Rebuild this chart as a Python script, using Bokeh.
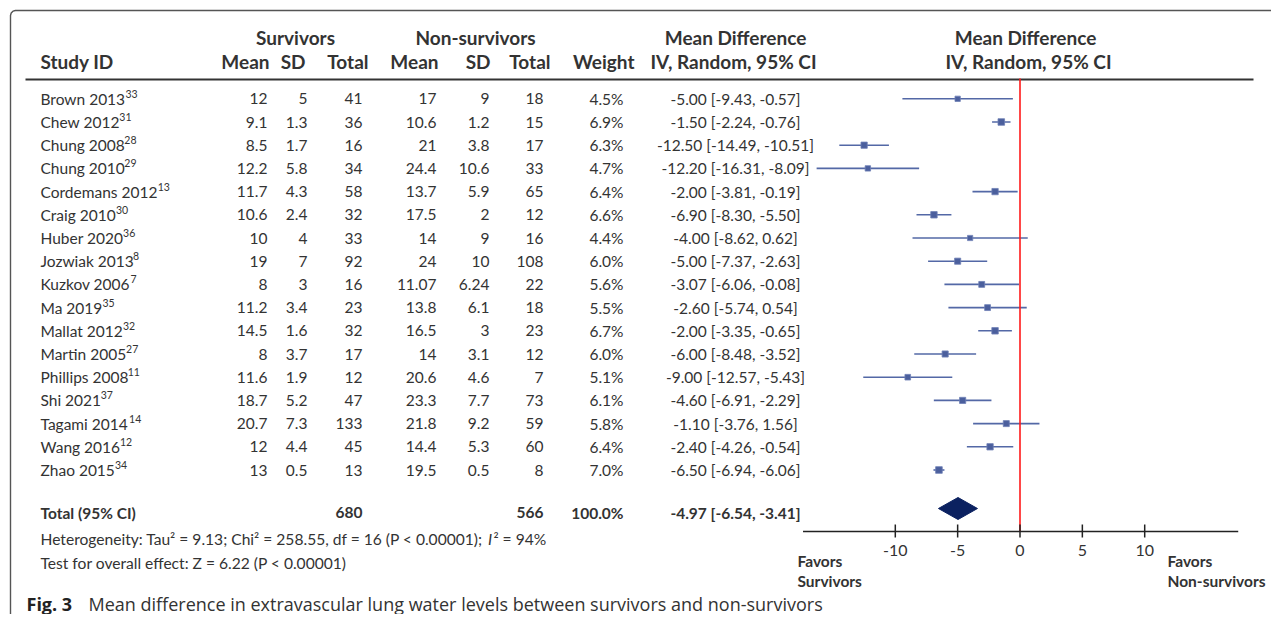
from bokeh.plotting import figure
from bokeh.models import Range1d, ColumnDataSource
from bokeh.core.properties import value
from bokeh.embed import file_html
from bokeh.resources import INLINE

# ---------------- data ----------------
studies = ["Brown 2013", "Chew 2012", "Chung 2008", "Chung 2010", "Cordemans 2012",
           "Craig 2010", "Huber 2020", "Jozwiak 2013", "Kuzkov 2006", "Ma 2019",
           "Mallat 2012", "Martin 2005", "Phillips 2008", "Shi 2021", "Tagami 2014",
           "Wang 2016", "Zhao 2015"]
refs = ["33", "31", "28", "29", "13", "30", "36", "8", "7", "35", "32", "27", "11",
        "37", "14", "12", "34"]
surv_mean = [12, 9.1, 8.5, 12.2, 11.7, 10.6, 10, 19, 8, 11.2, 14.5, 8, 11.6, 18.7, 20.7, 12, 13]
surv_sd = [5, 1.3, 1.7, 5.8, 4.3, 2.4, 4, 7, 3, 3.4, 1.6, 3.7, 1.9, 5.2, 7.3, 4.4, 0.5]
surv_n = [41, 36, 16, 34, 58, 32, 33, 92, 16, 23, 32, 17, 12, 47, 133, 45, 13]
non_mean = [17, 10.6, 21, 24.4, 13.7, 17.5, 14, 24, 11.07, 13.8, 16.5, 14, 20.6, 23.3, 21.8, 14.4, 19.5]
non_sd = [9, 1.2, 3.8, 10.6, 5.9, 2, 9, 10, 6.24, 6.1, 3, 3.1, 4.6, 7.7, 9.2, 5.3, 0.5]
non_n = [18, 15, 17, 33, 65, 12, 16, 108, 22, 18, 23, 12, 7, 73, 59, 60, 8]
weight = [4.5, 6.9, 6.3, 4.7, 6.4, 6.6, 4.4, 6.0, 5.6, 5.5, 6.7, 6.0, 5.1, 6.1, 5.8, 6.4, 7.0]
md = [-5.00, -1.50, -12.50, -12.20, -2.00, -6.90, -4.00, -5.00, -3.07, -2.60, -2.00,
      -6.00, -9.00, -4.60, -1.10, -2.40, -6.50]
ci_lo = [-9.43, -2.24, -14.49, -16.31, -3.81, -8.30, -8.62, -7.37, -6.06, -5.74, -3.35,
         -8.48, -12.57, -6.91, -3.76, -4.26, -6.94]
ci_hi = [-0.57, -0.76, -10.51, -8.09, -0.19, -5.50, 0.62, -2.63, -0.08, 0.54, -0.65,
         -3.52, -5.43, -2.29, 1.56, -0.54, -6.06]

total_surv_n = 680
total_non_n = 566
total_weight = 100.0
total_md = -4.97
total_lo = -6.54
total_hi = -3.41

heterogeneity = "Heterogeneity: Tau\u00b2 = 9.13; Chi\u00b2 = 258.55, df = 16 (P < 0.00001); "
heterogeneity_i = "I"
heterogeneity_end = "\u00b2 = 94%"
overall = "Test for overall effect: Z = 6.22 (P < 0.00001)"
caption_bold = "Fig. 3"
caption = "Mean difference in extravascular lung water levels between survivors and non-survivors"

tick_values = [-10, -5, 0, 5, 10]
axis_span = [-17.4, 17.5]

# ---------------- layout helpers ----------------
FONT = "Lato"
TXT = "#333333"
ZERO_PX = 1019.5
PX_PER_UNIT = 12.47
WIDTH, HEIGHT = 1271, 614

W_TABLE = {
    " ": 0.193, "a": 0.50, "b": 0.55, "c": 0.46, "d": 0.55, "e": 0.515, "g": 0.50,
    "h": 0.55, "i": 0.23, "k": 0.50, "l": 0.23, "m": 0.82, "n": 0.55, "o": 0.56,
    "p": 0.55, "r": 0.385, "s": 0.425, "t": 0.365, "u": 0.55, "w": 0.765, "z": 0.45,
    "y": 0.50, "f": 0.33, "v": 0.50, "x": 0.50, "q": 0.55, "j": 0.23,
    "B": 0.645, "C": 0.68, "H": 0.75, "J": 0.39, "K": 0.67, "M": 0.915, "P": 0.60,
    "S": 0.525, "T": 0.59, "W": 1.0, "Z": 0.615, "F": 0.56, "I": 0.28,
    ".": 0.22, ",": 0.22, ";": 0.24, ":": 0.24, "(": 0.30, ")": 0.30, "<": 0.58,
    "=": 0.58, "%": 0.80, "\u00b2": 0.36, "-": 0.35,
}


def text_width(s, size, bold=False):
    w = sum(W_TABLE.get(ch, 0.58 if ch.isdigit() else 0.55) for ch in s) * size
    return w * (1.03 if bold else 1.0)


def fmt(v):
    return f"{v:g}"


p = figure(width=WIDTH, height=HEIGHT, x_range=Range1d(0, WIDTH), y_range=Range1d(HEIGHT, 0),
           output_backend="svg", toolbar_location=None,
           x_axis_location=None, y_axis_location=None, min_border=0)
p.xgrid.visible = False
p.ygrid.visible = False
p.outline_line_color = None
p.background_fill_color = "white"
p.border_fill_color = "white"
p.extra_x_ranges = {"md": Range1d((0 - ZERO_PX) / PX_PER_UNIT, (WIDTH - ZERO_PX) / PX_PER_UNIT)}


def txt(x, y, s, size, bold=False, align="left", color=TXT, font=FONT, italic=False, **kw):
    style = "bold" if bold else "normal"
    if italic:
        style = "bold italic" if bold else "italic"
    p.text(x=x if isinstance(x, list) else [x], y=y if isinstance(y, list) else [y],
           text=s if isinstance(s, list) else [s],
           text_font=value(font), text_font_size=f"{size}px", text_font_style=style,
           text_align=align, text_baseline="middle", text_color=color, **kw)


# frame border (rounded top-left corner)
bx = [10, 10, 10.7, 12.5, 15, WIDTH]
by = [HEIGHT, 15, 12.5, 10.7, 10, 10]
p.line(bx, by, line_color="#555555", line_width=1.4)

# header
HS = 19
txt(295, 37, "Survivors", HS, bold=True, align="center")
txt(475, 37, "Non-survivors", HS, bold=True, align="center")
txt(735, 37, "Mean Difference", HS, bold=True, align="center")
txt(1025, 37, "Mean Difference", HS, bold=True, align="center")
txt(40, 61, "Study ID", HS, bold=True)
txt([269, 305, 368, 438, 490, 550, 634], [61] * 7,
    ["Mean", "SD", "Total", "Mean", "SD", "Total", "Weight"], HS, bold=True, align="right")
txt(733, 61, "IV, Random, 95% CI", HS, bold=True, align="center")
txt(1028, 61, "IV, Random, 95% CI", HS, bold=True, align="center")
p.line([25, 1253], [79, 79], line_color="#333333", line_width=2)

# study rows
Y0, DY = 98.3, 23.2
ys = [Y0 + i * DY for i in range(len(studies))]
BS = 15.5
src = ColumnDataSource(dict(
    y=ys, name=studies, ref=refs,
    refx=[40 + text_width(s, BS) + 1 for s in studies],
    refy=[y - 5 for y in ys],
    sm=[fmt(v) for v in surv_mean], ssd=[fmt(v) for v in surv_sd], sn=[str(v) for v in surv_n],
    nm=[fmt(v) for v in non_mean], nsd=[fmt(v) for v in non_sd], nn=[str(v) for v in non_n],
    w=[f"{v:.1f}%" for v in weight],
    ci=[f"{m:.2f} [{l:.2f}, {h:.2f}]" for m, l, h in zip(md, ci_lo, ci_hi)],
    md=md, lo=ci_lo, hi=ci_hi,
    size=[2.5 * v ** 0.5 for v in weight],
))


def col(xpos, field, align, size=BS):
    p.text(x=xpos, y="y", text=field, source=src, text_font=value(FONT),
           text_font_size=f"{size}px", text_align=align, text_baseline="middle",
           text_color=TXT)


col(40, "name", "left")
p.text(x="refx", y="refy", text="ref", source=src, text_font=value(FONT),
       text_font_size="10.5px", text_align="left", text_baseline="middle", text_color=TXT)
col(267, "sm", "right")
col(307, "ssd", "right")
col(362, "sn", "right")
col(436, "nm", "right")
col(489, "nsd", "right")
col(543, "nn", "right")
col(623, "w", "right")
col(735, "ci", "center")

# forest marks
p.segment(x0="lo", x1="hi", y0="y", y1="y", source=src, x_range_name="md",
          line_color="#5368A6", line_width=1.6)
p.scatter(x="md", y="y", size="size", marker="square", source=src, x_range_name="md",
          fill_color="#4B5F9D", line_color="#6F80B5", line_width=0.8)

# total row
YT = 512
txt(40, YT, "Total (95% CI)", BS, bold=True)
txt(362, YT, str(total_surv_n), BS, bold=True, align="right")
txt(543, YT, str(total_non_n), BS, bold=True, align="right")
txt(623, YT, f"{total_weight:.1f}%", BS, bold=True, align="right")
txt(735, YT, f"{total_md:.2f} [{total_lo:.2f}, {total_hi:.2f}]", BS, bold=True, align="center")
YD = 508
p.patch(x=[total_lo, total_md, total_hi, total_md], y=[YD, YD - 11, YD, YD + 11],
        x_range_name="md", fill_color="#0B2160", line_color="#0B2160")

# zero line
p.segment(x0=[0], x1=[0], y0=[78], y1=[531], x_range_name="md",
          line_color="#FF1A1A", line_width=1.6)

# axis
YA = 531
p.segment(x0=[axis_span[0]], x1=[axis_span[1]], y0=[YA], y1=[YA], x_range_name="md",
          line_color="#222222", line_width=1.5)
p.segment(x0=tick_values, x1=tick_values, y0=[YA - 7] * len(tick_values),
          y1=[YA + 6] * len(tick_values), x_range_name="md",
          line_color="#222222", line_width=1.5)
p.text(x=tick_values, y=[550] * len(tick_values), text=[str(t) for t in tick_values],
       x_range_name="md", text_font=value(FONT), text_font_size="16px",
       text_align="center", text_baseline="middle", text_color=TXT)

txt(797, 560, "Favors", BS, bold=True)
txt(797, 580, "Survivors", BS, bold=True)
txt(1167, 560, "Favors", BS, bold=True)
txt(1167, 580, "Non-survivors", BS, bold=True)

# heterogeneity & overall effect
HZ = 15.6
txt(40, 538, heterogeneity, HZ)
hx = 40 + text_width(heterogeneity, HZ) * 1.02 + 4
txt(hx, 538, heterogeneity_i, HZ, italic=True)
txt(hx + text_width(heterogeneity_i, HZ) + 1, 538, heterogeneity_end, HZ)
txt(40, 562, overall, HZ)

# caption
CS = 18
YC = 603
txt(26, YC, caption_bold, CS, bold=True, color="#222222", font="Open Sans")
txt(88, YC, caption, CS, color="#333333", font="Open Sans")

open("out.html", "w").write(file_html(p, INLINE))
